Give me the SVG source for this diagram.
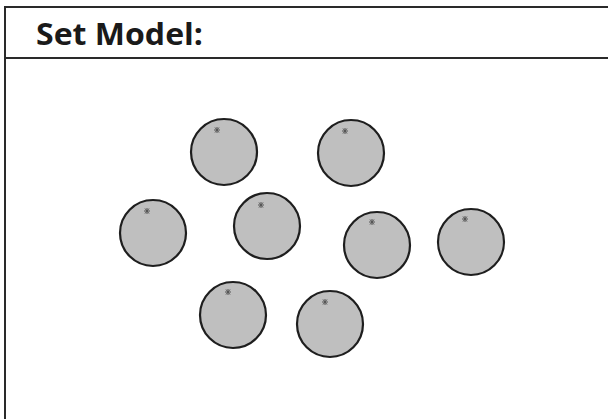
<svg xmlns="http://www.w3.org/2000/svg" width="608" height="419" viewBox="0 0 608 419">
<defs>
<style>
.frame{fill:none;stroke:#2a2a2a;stroke-width:2}
.orange{fill:#bfbfbf;stroke:#1e1e1e;stroke-width:2.2}
.stem{stroke:#555;stroke-width:1;fill:none}
.title{font-family:"Open Sans","Liberation Sans",sans-serif;font-weight:bold;font-size:31px;fill:#1a1a1a}
</style>
<g id="star"><path class="stem" d="M-3,0 H3 M-2,-2.5 L2,2.5 M2,-2.5 L-2,2.5 M0,-3 V3"/></g>
</defs>
<rect width="608" height="419" fill="#fff"/>
<g id="frame">
<path class="frame" d="M5,419 V7 H608"/>
<path class="frame" d="M5,58 H608"/>
<text class="title" x="36" y="45" textLength="167" lengthAdjust="spacingAndGlyphs">Set Model:</text>
</g>
<g id="connectors"></g>
<g id="o1"><circle class="orange" cx="224" cy="152" r="33"/><use href="#star" x="217" y="130"/></g>
<g id="o2"><circle class="orange" cx="351" cy="153" r="33"/><use href="#star" x="345" y="131"/></g>
<g id="o3"><circle class="orange" cx="153" cy="233" r="33"/><use href="#star" x="147" y="211"/></g>
<g id="o4"><circle class="orange" cx="267" cy="226" r="33"/><use href="#star" x="261" y="205"/></g>
<g id="o5"><circle class="orange" cx="377" cy="245" r="33"/><use href="#star" x="372" y="222"/></g>
<g id="o6"><circle class="orange" cx="471" cy="242" r="33"/><use href="#star" x="465" y="219"/></g>
<g id="o7"><circle class="orange" cx="233" cy="315" r="33"/><use href="#star" x="228" y="292"/></g>
<g id="o8"><circle class="orange" cx="330" cy="324" r="33"/><use href="#star" x="325" y="302"/></g>
</svg>
